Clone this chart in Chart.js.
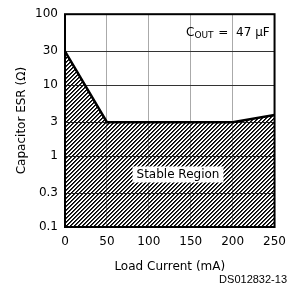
<!DOCTYPE html>
<html>
<head>
<meta charset="utf-8">
<script src="https://cdn.jsdelivr.net/npm/chart.js@4.4.1/dist/chart.umd.min.js"></script>
<style>
  html, body { margin: 0; padding: 0; background: #fff; }
  #wrap { width: 294px; height: 288px; }
</style>
</head>
<body>
<div id="wrap"><canvas id="myChart" width="294" height="288"></canvas></div>
<script>
// boundary of the stable region (load current mA, ESR ohm)
var loadCurrent = [0, 50, 200, 250];
var esrLimit = [30, 3, 3, 3.8];

var xTicks = [0, 50, 100, 150, 200, 250];
var yTicks = [0.1, 0.3, 1, 3, 10, 30, 100];

var FONT = "'DejaVu Sans', sans-serif";

// hatch pattern "/", transparent gaps so the grid shows through
function makeHatch() {
  var c = document.createElement("canvas");
  c.width = 4; c.height = 4;
  var g = c.getContext("2d");
  for (var i = 0; i < 4; i++) {
    g.fillStyle = "#000";
    g.fillRect(i, 3 - i, 1, 1);
    g.fillStyle = "#333";
    g.fillRect((i + 1) % 4, 3 - i, 1, 1);
  }
  return document.getElementById("myChart").getContext("2d").createPattern(c, "repeat");
}

var points = [];
for (var i = 0; i < loadCurrent.length; i++) {
  points.push({ x: loadCurrent[i], y: esrLimit[i] });
}

var labelsPlugin = {
  id: "labels",
  afterDatasetsDraw: function (chart) {
    var ctx = chart.ctx;
    var ys = chart.scales.y;
    var a = chart.chartArea;
    ctx.save();
    // Stable Region label
    ctx.font = "12px " + FONT;
    ctx.textAlign = "center";
    ctx.textBaseline = "middle";
    var cx = 178, cy = ys.getPixelForValue(0.55);
    var w = ctx.measureText("Stable Region").width + 8;
    ctx.fillStyle = "#fff";
    ctx.fillRect(cx - w / 2, cy - 8, w, 16);
    ctx.fillStyle = "#000";
    ctx.fillText("Stable Region", cx, cy);
    // C_OUT label
    ctx.textAlign = "left";
    var tx = 186, ty = ys.getPixelForValue(55);
    ctx.fillText("C", tx, ty);
    var cw = ctx.measureText("C").width;
    ctx.font = "9px " + FONT;
    ctx.fillText("OUT", tx + cw, ty + 3);
    var ow = ctx.measureText("OUT").width;
    ctx.font = "12px " + FONT;
    ctx.fillText(" =  47 \u00b5F", tx + cw + ow + 1, ty);
    // border
    ctx.strokeStyle = "#000";
    ctx.lineWidth = 2;
    ctx.strokeRect(a.left, a.top, a.right - a.left, a.bottom - a.top);
    // figure id
    ctx.font = "11px 'Liberation Sans', Arial, sans-serif";
    ctx.textAlign = "right";
    ctx.fillText("DS012832-13", 287, 280);
    ctx.restore();
  }
};

new Chart("myChart", {
  type: "scatter",
  data: {
    datasets: [{
      data: points,
      showLine: true,
      borderColor: "#000",
      borderWidth: 2.5,
      pointRadius: 0,
      fill: "start",
      backgroundColor: makeHatch()
    }]
  },
  options: {
    responsive: false,
    animation: false,
    layout: { padding: { top: 13, right: 15, bottom: 14, left: 0 } },
    plugins: { legend: { display: false }, tooltip: { enabled: false } },
    scales: {
      x: {
        type: "linear",
        min: 0, max: 250,
        afterBuildTicks: function (s) { s.ticks = xTicks.map(function (v) { return { value: v }; }); },
        afterFit: function (s) { s.height = 47; },
        grid: { color: "#aaa", lineWidth: 1, drawTicks: false },
        border: { display: false },
        ticks: { color: "#000", font: { family: FONT, size: 12 }, padding: 8, maxRotation: 0 },
        title: { display: true, text: "Load Current (mA)", color: "#000", font: { family: FONT, size: 12 }, padding: { top: 0, bottom: 0 } }
      },
      y: {
        type: "logarithmic",
        min: 0.1, max: 100,
        afterBuildTicks: function (s) { s.ticks = yTicks.map(function (v) { return { value: v }; }); },
        afterFit: function (s) { s.width = 65; },
        grid: { color: "#333", lineWidth: 1, drawTicks: false },
        border: { display: false },
        ticks: {
          color: "#000", font: { family: FONT, size: 12 }, padding: 7,
          callback: function (v) { return String(v); }
        },
        title: { display: true, text: "Capacitor ESR (\u03a9)", color: "#000", font: { family: FONT, size: 12 }, padding: { top: 15, bottom: 0 } }
      }
    }
  },
  plugins: [labelsPlugin]
});
</script>
</body>
</html>
